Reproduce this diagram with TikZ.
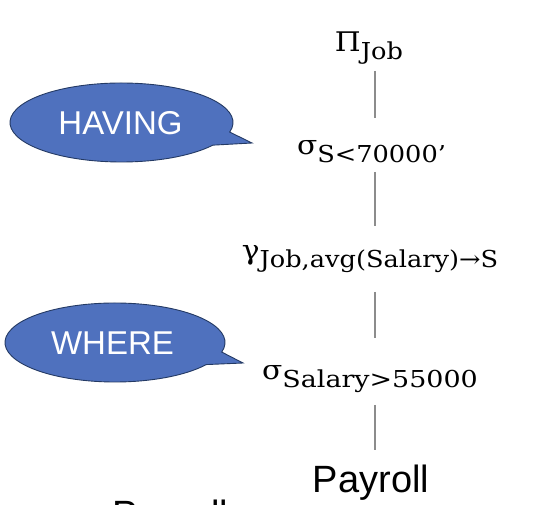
\documentclass[tikz,border=0pt]{standalone}
\usepackage{fontspec}
\setmainfont{Liberation Sans}
\newfontfamily\mathlbl[FakeStretch=1.1]{DejaVu Serif}
\definecolor{bubblefill}{RGB}{79,113,190}
\definecolor{bubbleline}{RGB}{36,58,100}
\definecolor{conngray}{RGB}{140,140,140}
\newcommand{\oplabel}[2]{{\mathlbl\fontsize{27}{27}\selectfont #1}{\mathlbl\fontsize{23.3}{23.3}\selectfont\raisebox{-8pt}{#2}}}
\begin{document}
\begin{tikzpicture}[x=1pt,y=1pt,
  oplbl/.style={anchor=base, inner sep=0pt},
  conn/.style={draw=conngray, line width=1.3pt},
  bubble/.style={fill=bubblefill, draw=bubbleline, line width=0.9pt},
  bubbletext/.style={text=white, font=\fontsize{33}{33}\selectfont, anchor=base, inner sep=0pt},
  reltext/.style={font=\fontsize{38}{38}\selectfont, anchor=base, inner sep=0pt}]
\useasboundingbox (0,0) rectangle (536,504);
% callouts
\coordinate (hc) at (121.5,381.5);
\coordinate (htip) at (252,361);
\draw[bubble] ([shift={(-14:111.5 and 39.5)}]hc) arc[start angle=-14, end angle=325, x radius=111.5, y radius=39.5] -- (htip) -- cycle;
\node[bubbletext] (having) at (120.5,369) {HAVING};
\coordinate (wc) at (115,161.5);
\coordinate (wtip) at (243,141);
\draw[bubble] ([shift={(-14:110 and 39.5)}]wc) arc[start angle=-14, end angle=326, x radius=110, y radius=39.5] -- (wtip) -- cycle;
\node[bubbletext] (where) at (112.5,149) {WHERE};
% operator tree
\node[oplbl] (pi) at (369,452) {\oplabel{Π}{Job}};
\node[oplbl] (s1) at (371.5,349) {\oplabel{σ}{S<70000’}};
\node[oplbl] (gam) at (370,244) {\oplabel{γ}{Job,avg(Salary)→S}};
\node[oplbl] (s2) at (370,124) {\oplabel{σ}{\scalebox{1.05}[1]{Salary>55000}}};
\node[reltext] (pay) at (371,12) {Payroll};
\node[reltext, anchor=base west] (paycut) at (112,-23) {Payroll};
\draw[conn] ([shift={(6,-19)}]pi.base) -- ([shift={(3.5,37)}]s1.base);
\draw[conn] ([shift={(3.5,-17)}]s1.base) -- ([shift={(5,34)}]gam.base);
\draw[conn] ([shift={(5,-32)}]gam.base) -- ([shift={(5,42)}]s2.base);
\draw[conn] ([shift={(5,-25)}]s2.base) -- ([shift={(4,42)}]pay.base);
\end{tikzpicture}
\end{document}
